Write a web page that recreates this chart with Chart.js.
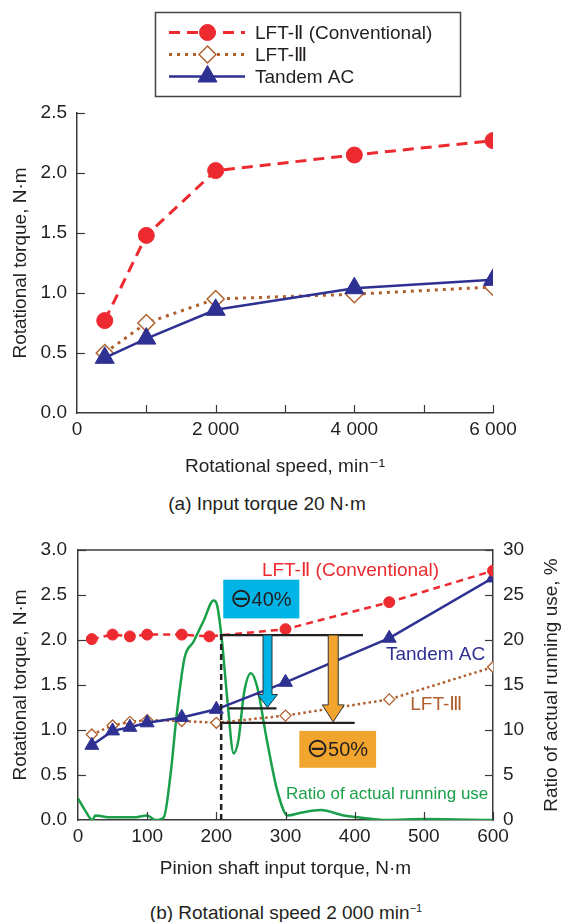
<!DOCTYPE html>
<html>
<head>
<meta charset="utf-8">
<script src="https://cdn.jsdelivr.net/npm/chart.js"></script>
<style>
    html, body { margin: 0; padding: 0; background: #fff; }
    #page {
        position: relative; width: 561px; height: 922px; overflow: hidden;
        font-family: 'Liberation Sans', 'DejaVu Sans', 'Noto Sans CJK JP', sans-serif;
        color: #231f20;
    }
    canvas { position: absolute; left: 0; }
    #topChart { top: 0; }
    #bottomChart { top: 520px; }
    .caption { position: absolute; left: 0; font-size: 19px; line-height: 22px; white-space: nowrap; text-align: center; }
    .caption sup { font-size: 11px; vertical-align: 7px; line-height: 0; }
</style>
</head>
<body>
<div id="page">
    <canvas id="topChart" width="561" height="480"></canvas>
    <div class="caption" style="top: 493px; width: 534px;">(a) Input torque 20 N·m</div>
    <canvas id="bottomChart" width="561" height="370"></canvas>
    <div class="caption" style="top: 902px; width: 572px;">(b) Rotational speed 2 000 min<sup>−1</sup></div>
</div>
<script>
// (a) rotational speed, min^-1
const speeds = [400, 1000, 2000, 4000, 6000];
const lft2BySpeed = [0.77, 1.48, 2.02, 2.15, 2.27];
const lft3BySpeed = [0.50, 0.75, 0.95, 0.99, 1.05];
const tandemBySpeed = [0.46, 0.62, 0.86, 1.04, 1.11];
const speedTickLabels = [0, 2000, 4000, 6000];

// (b) pinion shaft input torque, N·m
const torqueLft2 = [20, 50, 75, 100, 150, 190, 300, 450, 600];
const lft2ByTorque = [2.01, 2.06, 2.04, 2.06, 2.06, 2.04, 2.12, 2.42, 2.77];
const torqueOthers = [20, 50, 75, 100, 150, 200, 300, 450, 600];
const lft3ByTorque = [0.95, 1.05, 1.09, 1.11, 1.10, 1.08, 1.16, 1.34, 1.70];
const tandemByTorque = [0.83, 0.99, 1.03, 1.08, 1.14, 1.23, 1.53, 2.02, 2.69];

// ratio of actual running use, %
const usageTorque = [0, 10, 21, 25, 47, 80, 100, 112, 124, 134, 143, 154, 167, 182, 196, 201, 208, 216, 225, 232, 240, 250, 259, 273, 288, 303, 322, 351, 384, 405, 446, 500, 600];
const usageRatio = [2.4, 1.1, 0, 0.5, 0.3, 0.3, 0.5, 0, 0.3, 5.2, 11.9, 18.0, 19.8, 22.2, 24.4, 23.9, 20.0, 13.3, 7.4, 8.9, 14.1, 16.3, 14.8, 8.9, 3.3, 0.5, 0.8, 1.1, 0.5, 0.3, 0, 0.1, 0];

const RED = '#ec2a30';
const BROWN = '#b0602e';
const NAVY = '#2e3192';
const GREEN = '#19a049';
const INK = '#231f20';
const AXIS = '#3a3a3a';
const FONT = "'Liberation Sans', 'DejaVu Sans', 'Noto Sans CJK JP', sans-serif";

Chart.defaults.font.family = FONT;
Chart.defaults.font.size = 19;
Chart.defaults.color = INK;

function pairs(xs, ys) {
    return xs.map((x, i) => ({ x: x, y: ys[i] }));
}

function thousands(v) {
    if (v < 1000) return String(v);
    return Math.floor(v / 1000) + ' ' + String(v % 1000).padStart(3, '0');
}

function drawMarker(ctx, style, r, x, y) {
    ctx.beginPath();
    if (style === 'circle') {
        ctx.arc(x, y, r, 0, Math.PI * 2);
    } else if (style === 'rectRot') {
        ctx.moveTo(x, y - r); ctx.lineTo(x + r, y); ctx.lineTo(x, y + r); ctx.lineTo(x - r, y);
        ctx.closePath();
    } else {
        ctx.moveTo(x, y - r);
        ctx.lineTo(x + r * Math.sin(Math.PI * 2 / 3), y + r / 2);
        ctx.lineTo(x - r * Math.sin(Math.PI * 2 / 3), y + r / 2);
        ctx.closePath();
    }
}

// tick marks pointing into the plot
const insideTicks = {
    id: 'insideTicks',
    afterDraw(chart) {
        const ctx = chart.ctx;
        const len = 8;
        ctx.save();
        ctx.strokeStyle = AXIS;
        ctx.lineWidth = 1.2;
        Object.values(chart.scales).forEach(s => {
            s.ticks.forEach(t => {
                if (t.value === s.min) return;
                const p = Math.round(s.getPixelForValue(t.value)) + 0.5;
                ctx.beginPath();
                if (s.axis === 'x') {
                    ctx.moveTo(p, s.top); ctx.lineTo(p, s.top - len);
                } else if (s.position === 'left') {
                    ctx.moveTo(s.right, p); ctx.lineTo(s.right + len, p);
                } else {
                    ctx.moveTo(s.left, p); ctx.lineTo(s.left - len, p);
                }
                ctx.stroke();
            });
        });
        ctx.restore();
    }
};

// boxed legend with line + marker samples
const boxLegend = {
    id: 'boxLegend',
    afterDraw(chart) {
        const ctx = chart.ctx;
        ctx.save();
        ctx.strokeStyle = '#444';
        ctx.lineWidth = 1.5;
        ctx.strokeRect(155.5, 12.5, 305, 84);
        const rows = [32.5, 54.5, 76.5];
        chart.data.datasets.forEach((ds, i) => {
            const y = rows[i];
            ctx.save();
            ctx.strokeStyle = ds.borderColor;
            ctx.lineWidth = ds.borderWidth;
            ctx.setLineDash(ds.borderDash || []);
            ctx.beginPath();
            ctx.moveTo(169, y); ctx.lineTo(245, y);
            ctx.stroke();
            ctx.restore();
            ctx.fillStyle = ds.pointBackgroundColor;
            ctx.strokeStyle = ds.pointBorderColor;
            ctx.lineWidth = ds.pointBorderWidth;
            drawMarker(ctx, ds.pointStyle, ds.pointRadius, 207.5, y);
            ctx.fill();
            ctx.stroke();
            ctx.fillStyle = INK;
            ctx.font = '19px ' + FONT;
            ctx.textBaseline = 'middle';
            ctx.textAlign = 'left';
            ctx.fillText(ds.label, 255, y + 1);
        });
        ctx.restore();
    }
};

const topChart = new Chart(document.getElementById('topChart'), {
    type: 'line',
    data: {
        datasets: [{
            label: 'LFT-Ⅱ (Conventional)',
            data: pairs(speeds, lft2BySpeed),
            borderColor: RED, borderWidth: 3, borderDash: [11, 7],
            pointStyle: 'circle', pointRadius: 8,
            pointBackgroundColor: RED, pointBorderColor: RED, pointBorderWidth: 1,
            order: 0
        }, {
            label: 'LFT-Ⅲ',
            data: pairs(speeds, lft3BySpeed),
            borderColor: BROWN, borderWidth: 3, borderDash: [3, 5],
            pointStyle: 'rectRot', pointRadius: 8.5,
            pointBackgroundColor: '#fff', pointBorderColor: BROWN, pointBorderWidth: 1.5,
            order: 2
        }, {
            label: 'Tandem AC',
            data: pairs(speeds, tandemBySpeed),
            borderColor: NAVY, borderWidth: 2.5,
            pointStyle: 'triangle', pointRadius: 11,
            pointBackgroundColor: NAVY, pointBorderColor: NAVY, pointBorderWidth: 1,
            order: 1
        }]
    },
    options: {
        responsive: false,
        animation: false,
        layout: { padding: { top: 113, right: 68, left: 0, bottom: 0 } },
        plugins: { legend: { display: false }, tooltip: { enabled: false } },
        scales: {
            x: {
                type: 'linear', min: 0, max: 6000,
                grid: { display: false, drawTicks: false },
                border: { color: AXIS, width: 1.5 },
                ticks: {
                    stepSize: 1000, padding: 5, maxRotation: 0, autoSkip: false,
                    callback: v => speedTickLabels.includes(v) ? thousands(v) : ''
                },
                title: { display: true, text: 'Rotational speed, min⁻¹', padding: { bottom: 2 } },
                afterFit: s => { s.height = 67; }
            },
            y: {
                min: 0, max: 2.5,
                grid: { display: false, drawTicks: false },
                border: { color: AXIS, width: 1.5 },
                ticks: { stepSize: 0.5, padding: 10, callback: v => v.toFixed(1) },
                title: { display: true, text: 'Rotational torque, N·m', padding: { top: 9 } },
                afterFit: s => { s.width = 77; }
            }
        }
    },
    plugins: [insideTicks, boxLegend]
});

// callouts of figure (b), in data coordinates
const callouts = {
    boxes: [
        { x1: 210, x2: 320, y1: 2.67, y2: 2.24, fill: '#00b4e6', text: '40%' },
        { x1: 320, x2: 431, y1: 0.99, y2: 0.58, fill: '#f2a52e', text: '50%' }
    ],
    levels: [
        { x1: 205, x2: 412, y: 2.055 },
        { x1: 218, x2: 287, y: 1.24 },
        { x1: 205, x2: 400, y: 1.08 }
    ],
    drop: { x: 207, y1: 0, y2: 2.055 },
    arrows: [
        { x: 274, y1: 2.055, y2: 1.25, fill: '#00b4e6', shaft: 4.5, head: 10, headLen: 13 },
        { x: 369, y1: 2.055, y2: 1.09, fill: '#f2a52e', shaft: 5, head: 11, headLen: 17 }
    ],
    labels: [
        { text: 'LFT-Ⅱ (Conventional)', x: 394, y: 2.77, color: RED, size: 19 },
        { text: 'Tandem AC', x: 517, y: 1.84, color: NAVY, size: 19 },
        { text: 'LFT-Ⅲ', x: 518, y: 1.28, color: BROWN, size: 19 },
        { text: 'Ratio of actual running use', x: 447, y: 0.28, color: GREEN, size: 17 }
    ]
};

const calloutPlugin = {
    id: 'callouts',
    afterDatasetsDraw(chart) {
        const ctx = chart.ctx;
        const xs = chart.scales.x;
        const ys = chart.scales.y;
        const area = chart.chartArea;
        ctx.save();

        // frame on top of the plot
        ctx.strokeStyle = AXIS;
        ctx.lineWidth = 1.5;
        ctx.beginPath();
        ctx.moveTo(area.left, area.top); ctx.lineTo(area.right, area.top);
        ctx.stroke();

        const d = callouts.drop;
        ctx.strokeStyle = INK;
        ctx.lineWidth = 2.5;
        ctx.setLineDash([6, 4]);
        ctx.beginPath();
        ctx.moveTo(xs.getPixelForValue(d.x), ys.getPixelForValue(d.y1));
        ctx.lineTo(xs.getPixelForValue(d.x), ys.getPixelForValue(d.y2));
        ctx.stroke();
        ctx.setLineDash([]);

        ctx.lineWidth = 2.2;
        callouts.levels.forEach(l => {
            const y = ys.getPixelForValue(l.y);
            ctx.beginPath();
            ctx.moveTo(xs.getPixelForValue(l.x1), y);
            ctx.lineTo(xs.getPixelForValue(l.x2), y);
            ctx.stroke();
        });

        callouts.arrows.forEach(a => {
            const x = xs.getPixelForValue(a.x);
            const top = ys.getPixelForValue(a.y1);
            const tip = ys.getPixelForValue(a.y2);
            const base = tip - a.headLen;
            ctx.beginPath();
            ctx.moveTo(x - a.shaft, top);
            ctx.lineTo(x + a.shaft, top);
            ctx.lineTo(x + a.shaft, base);
            ctx.lineTo(x + a.head, base);
            ctx.lineTo(x, tip);
            ctx.lineTo(x - a.head, base);
            ctx.lineTo(x - a.shaft, base);
            ctx.closePath();
            ctx.fillStyle = a.fill;
            ctx.fill();
            ctx.strokeStyle = '#333';
            ctx.lineWidth = 1;
            ctx.stroke();
        });

        ctx.textBaseline = 'middle';
        callouts.boxes.forEach(b => {
            const x1 = xs.getPixelForValue(b.x1), x2 = xs.getPixelForValue(b.x2);
            const y1 = ys.getPixelForValue(b.y1), y2 = ys.getPixelForValue(b.y2);
            ctx.fillStyle = b.fill;
            ctx.fillRect(x1, y1, x2 - x1, y2 - y1);
            // circled minus drawn larger than the digits, as in the original
            const signFont = "27px 'DejaVu Sans', sans-serif";
            const numFont = '20px ' + FONT;
            ctx.font = signFont;
            const w1 = ctx.measureText('⊖').width;
            ctx.font = numFont;
            const w2 = ctx.measureText(b.text).width;
            let x = (x1 + x2) / 2 - (w1 + w2) / 2;
            const y = (y1 + y2) / 2 + 1;
            ctx.fillStyle = INK;
            ctx.textAlign = 'left';
            ctx.font = signFont;
            ctx.fillText('⊖', x, y);
            ctx.font = numFont;
            ctx.fillText(b.text, x + w1 - 1, y);
        });

        ctx.textAlign = 'center';
        callouts.labels.forEach(t => {
            ctx.font = t.size + 'px ' + FONT;
            ctx.fillStyle = t.color;
            ctx.fillText(t.text, xs.getPixelForValue(t.x), ys.getPixelForValue(t.y));
        });

        // right axis title, read from bottom to top like the left one
        const r = chart.scales.y2;
        ctx.translate(r.right - 9, (area.top + area.bottom) / 2);
        ctx.rotate(-Math.PI / 2);
        ctx.font = '19px ' + FONT;
        ctx.fillStyle = INK;
        ctx.fillText('Ratio of actual running use, %', 0, 0);
        ctx.restore();
    }
};

const bottomChart = new Chart(document.getElementById('bottomChart'), {
    type: 'line',
    data: {
        datasets: [{
            label: 'LFT-Ⅱ (Conventional)',
            data: pairs(torqueLft2, lft2ByTorque),
            borderColor: RED, borderWidth: 2.5, borderDash: [7, 5],
            pointStyle: 'circle', pointRadius: 5.5,
            pointBackgroundColor: RED, pointBorderColor: RED, pointBorderWidth: 1,
            yAxisID: 'y', order: 0
        }, {
            label: 'LFT-Ⅲ',
            data: pairs(torqueOthers, lft3ByTorque),
            borderColor: BROWN, borderWidth: 2.5, borderDash: [2.5, 3],
            pointStyle: 'rectRot', pointRadius: 5.5,
            pointBackgroundColor: '#fff', pointBorderColor: BROWN, pointBorderWidth: 1.3,
            yAxisID: 'y', order: 2
        }, {
            label: 'Tandem AC',
            data: pairs(torqueOthers, tandemByTorque),
            borderColor: NAVY, borderWidth: 2.5,
            pointStyle: 'triangle', pointRadius: 8,
            pointBackgroundColor: NAVY, pointBorderColor: NAVY, pointBorderWidth: 1,
            yAxisID: 'y', order: 1
        }, {
            label: 'Ratio of actual running use',
            data: pairs(usageTorque, usageRatio),
            borderColor: GREEN, borderWidth: 2.5,
            pointRadius: 0, cubicInterpolationMode: 'monotone',
            yAxisID: 'y2', order: 3
        }]
    },
    options: {
        responsive: false,
        animation: false,
        layout: { padding: { top: 30, right: 0, left: 0, bottom: 0 } },
        plugins: { legend: { display: false }, tooltip: { enabled: false } },
        scales: {
            x: {
                type: 'linear', min: 0, max: 600,
                grid: { display: false, drawTicks: false },
                border: { color: AXIS, width: 1.5 },
                ticks: { stepSize: 100, padding: 5, maxRotation: 0, autoSkip: false },
                title: { display: true, text: 'Pinion shaft input torque, N·m', padding: { bottom: 10 } },
                afterFit: s => { s.height = 70; }
            },
            y: {
                position: 'left', min: 0, max: 3,
                grid: { display: false, drawTicks: false },
                border: { color: AXIS, width: 1.5 },
                ticks: { stepSize: 0.5, padding: 11, callback: v => v.toFixed(1) },
                title: { display: true, text: 'Rotational torque, N·m', padding: { top: 9 } },
                afterFit: s => { s.width = 78; }
            },
            y2: {
                position: 'right', min: 0, max: 30,
                grid: { display: false, drawTicks: false },
                border: { color: AXIS, width: 1.5 },
                ticks: { stepSize: 5, padding: 10 },
                title: { display: false },
                afterFit: s => { s.width = 68; }
            }
        }
    },
    plugins: [insideTicks, calloutPlugin]
});
</script>
</body>
</html>
